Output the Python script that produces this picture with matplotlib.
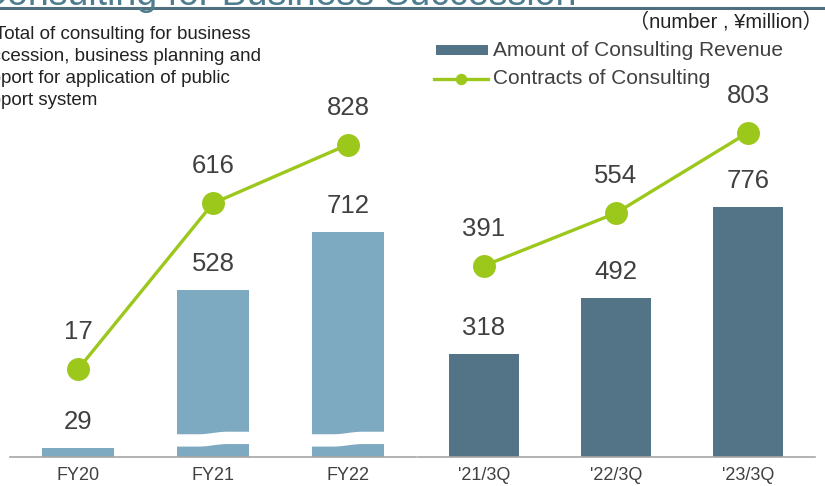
import matplotlib.pyplot as plt
import numpy as np
from matplotlib.patches import Rectangle, Polygon
from matplotlib.lines import Line2D

plt.rcParams['font.family'] = ['Liberation Sans', 'Noto Sans CJK JP', 'DejaVu Sans']

# データ
fy_labels = ['FY20', 'FY21', 'FY22']
fy_revenue = [29, 528, 712]
fy_contracts = [17, 616, 828]
q_labels = ["'21/3Q", "'22/3Q", "'23/3Q"]
q_revenue = [318, 492, 776]
q_contracts = [391, 554, 803]
fy_broken = [False, True, True]  # FY21, FY22 have a break mark

BAR_LIGHT = '#7eaac1'
BAR_DARK = '#527486'
LIME = '#9cc71b'
TEXT = '#404040'
AXIS = '#a6a6a6'
W, H = 825, 486


def fx(x):
    return x / W


def fy(y):
    return 1 - y / H


fig = plt.figure(figsize=(W / 100, H / 100), dpi=100)


def panel(x0, x1, labels, revenue, contracts, color, xlim, width, bar_top, line_lim, broken=None):
    ax = fig.add_axes([fx(x0), fy(457), (x1 - x0) / W, (457 - 100) / H])
    x = np.arange(len(labels))
    ax.bar(x, revenue, width=width, color=color, zorder=2)
    ax.set_xlim(*xlim)
    ax.set_ylim(0, bar_top)
    ax.set_xticks(x)
    ax.set_xticklabels(labels)
    ax.tick_params(axis='x', length=0, pad=7.5, labelsize=13, labelcolor=TEXT)
    ax.set_yticks([])
    for s in ['top', 'left', 'right']:
        ax.spines[s].set_visible(False)
    ax.spines['bottom'].set_color(AXIS)
    ax.spines['bottom'].set_linewidth(1.2)
    ax.patch.set_visible(False)

    for i, v in enumerate(revenue):
        ax.annotate(str(v), (i, v), xytext=(0, 18.7), textcoords='offset points',
                    ha='center', va='center', fontsize=18.5, color=TEXT)

    # 省略の波線
    if broken is not None:
        for i, b in enumerate(broken):
            if not b:
                continue
            t = np.linspace(0, 1, 60)
            s = np.clip((t - 0.3) / 0.4, 0, 1)
            off = 8 * (1 - np.cos(np.pi * s)) / 2
            xs = i - width / 2 - 0.01 + t * (width + 0.02)
            top = 72 + off
            bot = 33 + off
            pts = np.vstack([np.column_stack([xs, top]), np.column_stack([xs[::-1], bot[::-1]])])
            ax.add_patch(Polygon(pts, closed=True, facecolor='white', edgecolor='none', zorder=3))

    ax2 = ax.twinx()
    ax2.plot(x, contracts, color=LIME, lw=2.4, marker='o', ms=15.5, zorder=4, clip_on=False)
    ax2.set_ylim(*line_lim)
    ax2.set_xlim(*xlim)
    ax2.axis('off')
    for i, v in enumerate(contracts):
        ax2.annotate(str(v), (i, v), xytext=(0, 26.6), textcoords='offset points',
                     ha='center', va='center', fontsize=18.5, color=TEXT)
    return ax


panel(10, 416, fy_labels, fy_revenue, fy_contracts, BAR_LIGHT,
      (-0.504, 2.504), 0.533, 1130, (-300, 989), broken=fy_broken)
panel(418, 815, q_labels, q_revenue, q_contracts, BAR_DARK,
      (-0.5, 2.508), 0.53, 1107, (-201, 904))

# タイトル（上端で切れている）
fig.text(fx(576), fy(5), 'Consulting for Business Succession', ha='right', va='baseline',
         fontsize=27, color='#4e7d90')
fig.add_artist(Line2D([0, 1], [fy(8), fy(8)], transform=fig.transFigure,
                      color='#4f6f7e', lw=2.2))

# 単位
fig.text(fx(823), fy(22), '（number , ¥million）', ha='right', va='center',
         fontsize=14.5, color='#222222')

# 注記
note_lines = [('Total of consulting for business', -5),
              ('succession, business planning and', -28),
              ('support for application of public', -29),
              ('support system', -29)]
for k, (line, x0) in enumerate(note_lines):
    fig.text(fx(x0), fy(39 + 22 * k), line, ha='left', va='baseline',
             fontsize=13.5, color='#222222')

# 凡例
fig.add_artist(Rectangle((fx(436), fy(55)), 52 / W, 10 / H, transform=fig.transFigure,
                         facecolor=BAR_DARK, edgecolor='none'))
fig.add_artist(Line2D([fx(434), fx(488)], [fy(79), fy(79)], transform=fig.transFigure,
                      color=LIME, lw=2.4))
fig.add_artist(Line2D([fx(461)], [fy(79)], transform=fig.transFigure,
                      color=LIME, marker='o', ms=7.2, lw=0))
fig.text(fx(493), fy(50), 'Amount of Consulting Revenue', ha='left', va='center',
         fontsize=15, color=TEXT)
fig.text(fx(493), fy(79), 'Contracts of Consulting', ha='left', va='center',
         fontsize=15, color=TEXT)

fig.savefig('out.png', dpi=100)
